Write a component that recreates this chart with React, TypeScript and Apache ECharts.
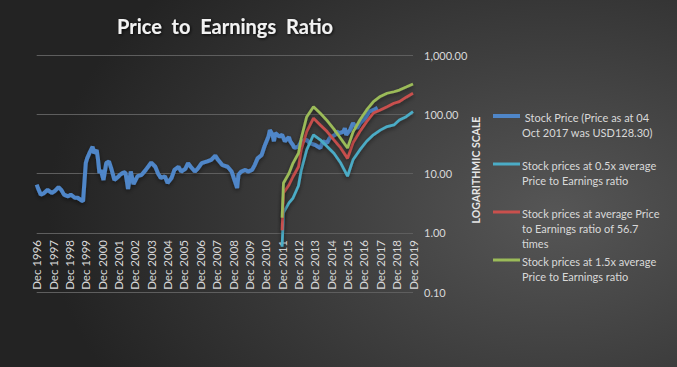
import React, { useEffect, useRef } from "react";
import * as echarts from "echarts";

const titleText = "Price  to  Earnings  Ratio";
const axisName = "LOGARITHMIC SCALE";

const seriesNames = [
  " Stock Price (Price as at 04\nOct 2017 was USD128.30)",
  "Stock prices at 0.5x average\nPrice to Earnings ratio",
  "Stock prices at average Price\nto Earnings ratio of 56.7\ntimes",
  "Stock prices at 1.5x average\nPrice to Earnings ratio",
];
const seriesColors = ["#4f86c8", "#4bacc6", "#c9504d", "#9bbb59"];

// months since Dec 1996
const startYear = 1996;
const lastMonth = 276;

const blueMonths = [
  0, 1, 3, 5, 8, 11, 13, 16, 18, 20, 23, 25, 28, 30, 33, 34, 36, 37, 39, 41, 42, 44, 45, 46, 47, 49,
  51, 53, 55, 57, 60, 61, 63, 65, 66, 67, 69, 71, 74, 77, 80, 84, 87, 89, 91, 94, 96, 99, 101, 104,
  106, 109, 111, 113, 116, 118, 121, 125, 128, 131, 133, 136, 138, 140, 143, 145, 147, 148, 150, 153,
  155, 158, 160, 162, 165, 167, 170, 171, 173, 174, 175, 178, 180, 182, 185, 186, 188, 189, 192, 194,
  198, 200, 204, 208, 210, 213, 215, 219, 220, 222, 225, 226, 227, 230, 232, 233, 235, 237, 241, 244,
  247, 250,
];
const blueValues = [
  6.5, 5.6, 4.4, 4.6, 5.3, 4.7, 5.0, 5.9, 5.3, 4.4, 4.1, 4.4, 3.9, 3.9, 3.5, 3.4, 15, 18, 23, 28.5, 22,
  25, 17, 10.2, 11.5, 7.8, 15, 16, 11.5, 7.8, 8.9, 9.5, 10.2, 10.5, 7.8, 5.5, 10.8, 6.6, 9, 9.5, 11.5,
  15.3, 13, 10, 8.4, 9, 6.9, 8.5, 11.5, 13, 10.8, 12, 15, 13, 10.8, 12, 15, 16, 17, 20, 17, 14, 13.5,
  13, 10.8, 7.8, 5.7, 9.5, 10.8, 11.5, 10.8, 11.5, 14, 18, 20.6, 28.5, 42, 54, 45, 35, 48, 42, 45, 35,
  41, 35, 30, 27, 28.5, 35, 37, 33, 30.5, 27, 35, 33, 40, 45, 51, 48, 51, 58, 45, 55, 71, 66, 58, 70,
  86, 112, 118, 128.3,
];

const peMonths = [180, 181, 185, 188, 192, 194, 198, 203, 208, 213, 218, 223, 228, 232, 237, 242, 247, 252, 257, 262, 266, 271, 276];
const halfPeValues = [0.58, 2.2, 3.2, 3.85, 6.2, 11.3, 25, 45, 37, 28.5, 22, 15, 9, 17, 25, 35, 45, 54, 62, 66, 80, 91, 111];
const avgPeValues = [1.1, 4.7, 6.4, 8.9, 13, 25, 51, 86, 66, 51, 37, 27, 18, 33, 51, 75, 105, 118, 134, 153, 163, 194, 226];
const onePointFivePeValues = [1.8, 6.9, 10, 15, 22, 39, 90, 134, 104, 78, 56, 39, 27, 50, 80, 118, 163, 200, 226, 240, 256, 288, 325];

const yTicks = [0.1, 1, 10, 100, 1000];

const FONT = "Lato, 'Liberation Sans', sans-serif";
const TXT = "#d9d9d9";

function pairs(xs: number[], ys: number[]) {
  return xs.map((x, i) => [x, ys[i]]);
}

export default function App() {
  const ref = useRef<HTMLDivElement>(null);
  useEffect(() => {
    if (!ref.current) return;
    const chart = echarts.init(ref.current, undefined, { renderer: "svg" });
    const dataSets = [
      pairs(blueMonths, blueValues),
      pairs(peMonths, halfPeValues),
      pairs(peMonths, avgPeValues),
      pairs(peMonths, onePointFivePeValues),
    ];
    const legendTops = [110, 158, 206, 254];
    const legendGraphics: any[] = [];
    seriesNames.forEach((name, i) => {
      legendGraphics.push({
        type: "line",
        shape: { x1: 493, y1: legendTops[i] + 6, x2: 520, y2: legendTops[i] + 6 },
        style: { stroke: seriesColors[i], lineWidth: i === 0 ? 4 : 3 },
      });
      legendGraphics.push({
        type: "text",
        x: 522,
        y: legendTops[i],
        style: {
          text: name,
          fill: TXT,
          font: `11px ${FONT}`,
          lineHeight: 15,
          textVerticalAlign: "top",
        },
      });
    });
    chart.setOption({
      animation: false,
      backgroundColor: "transparent",
      textStyle: { fontFamily: FONT },
      title: {
        text: titleText,
        left: 220,
        top: 11,
        textAlign: "center",
        textStyle: {
          color: "#f2f2f2",
          fontSize: 20,
          fontWeight: "bold",
          fontFamily: FONT,
          textShadowColor: "rgba(0,0,0,0.8)",
          textShadowBlur: 3,
          textShadowOffsetX: 1,
          textShadowOffsetY: 1,
        },
      },
      grid: { left: 36.7, right: 264, top: 55, bottom: 75, containLabel: false },
      xAxis: {
        type: "value",
        min: 0,
        max: lastMonth,
        interval: 12,
        offset: -59,
        axisLine: { show: false },
        axisTick: { show: false },
        splitLine: { show: false },
        axisLabel: {
          rotate: 90,
          margin: 7,
          color: TXT,
          fontSize: 11.5,
          fontFamily: FONT,
          showMinLabel: true,
          showMaxLabel: true,
          formatter: (v: number) => "Dec " + (startYear + Math.round(v / 12)),
        },
      },
      yAxis: {
        type: "log",
        logBase: 10,
        min: yTicks[0],
        max: yTicks[yTicks.length - 1],
        position: "right",
        axisLine: { show: false },
        axisTick: { show: false },
        splitLine: { lineStyle: { color: "#5e5e5e", width: 1 } },
        axisLabel: {
          margin: 11,
          color: TXT,
          fontSize: 11,
          fontFamily: FONT,
          formatter: (v: number) =>
            Number(v).toLocaleString("en-US", { minimumFractionDigits: 2, maximumFractionDigits: 2 }),
        },
      },
      series: dataSets.map((d, i) => ({
        type: "line",
        name: seriesNames[i],
        data: d,
        showSymbol: false,
        symbol: "none",
        lineStyle: {
          color: seriesColors[i],
          width: i === 0 ? 4 : 2.75,
          shadowColor: "rgba(0,0,0,0.45)",
          shadowBlur: 4,
          shadowOffsetY: 2,
        },
        itemStyle: { color: seriesColors[i] },
      })),
      graphic: [
        {
          type: "text",
          x: 476,
          y: 170,
          rotation: Math.PI / 2,
          style: {
            text: axisName,
            fill: "#e6e6e6",
            font: `bold 10.5px ${FONT}`,
            textAlign: "center",
            textVerticalAlign: "middle",
          },
        },
        ...legendGraphics,
      ],
    });
    return () => chart.dispose();
  }, []);
  return (
    <div
      style={{
        position: "absolute",
        left: 0,
        top: 0,
        width: 677,
        height: 367,
        background: "radial-gradient(ellipse 75% 95% at 82% 58%, #565656 0%, #3f3f3f 45%, #232323 100%)",
      }}
    >
      <div ref={ref} style={{ width: 677, height: 367 }} />
    </div>
  );
}
